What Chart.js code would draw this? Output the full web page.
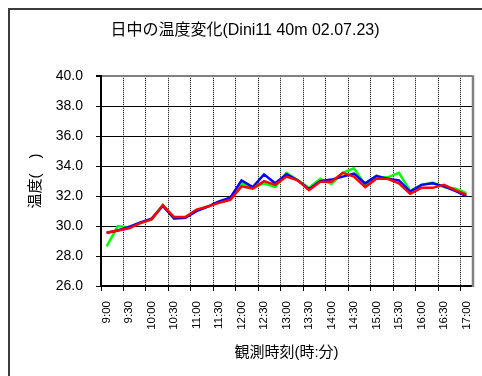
<!DOCTYPE html>
<html><head><meta charset="utf-8">
<script src="https://cdn.jsdelivr.net/npm/chart.js@4.4.1/dist/chart.umd.min.js"></script>
<style>html,body{margin:0;padding:0;background:#fff}canvas{display:block}</style>
</head><body>
<canvas id="c" width="482" height="376"></canvas>
<script>
const chartTitle = '日中の温度変化(Dini11 40m 02.07.23)';
const xTitle = '観測時刻(時:分)';
const yTitle = '温度(　)';
const times = ['9:00','9:15','9:30','9:45','10:00','10:15','10:30','10:45','11:00','11:15','11:30','11:45',
  '12:00','12:15','12:30','12:45','13:00','13:15','13:30','13:45','14:00','14:15','14:30','14:45',
  '15:00','15:15','15:30','15:45','16:00','16:15','16:30','16:45','17:00'];
const yTicks = [26,28,30,32,34,36,38,40];
const redSeries = [29.55,29.7,29.85,30.2,30.45,31.4,30.6,30.6,31.1,31.3,31.55,31.75,32.65,32.5,33.0,32.75,33.3,33.05,32.4,32.95,32.95,33.55,33.3,32.6,33.15,33.15,32.85,32.15,32.55,32.55,32.75,32.4,32.1];
const blueSeries = [29.55,29.7,29.95,30.25,30.5,31.35,30.5,30.55,31.0,31.3,31.65,31.9,33.05,32.6,33.45,32.85,33.45,33.05,32.45,33.0,33.1,33.3,33.5,32.85,33.35,33.15,33.05,32.3,32.75,32.85,32.65,32.35,32.0];
const greenSeries = [28.65,30.0,29.9,30.2,30.45,31.4,30.5,30.55,31.05,31.3,31.6,31.8,32.85,32.55,32.85,32.6,33.55,33.05,32.55,33.15,32.8,33.55,33.85,32.75,33.25,33.25,33.55,32.35,32.75,32.9,32.6,32.5,32.2];

const FONT = "'Liberation Sans', 'Noto Sans CJK JP', sans-serif";

const framePlugin = {
  id: 'frame',
  beforeDraw(chart) {
    const ctx = chart.ctx;
    ctx.save();
    ctx.fillStyle = '#fff';
    ctx.fillRect(0, 0, chart.width, chart.height);
    ctx.strokeStyle = '#3c3c3c';
    ctx.lineWidth = 2;
    ctx.strokeRect(9, 9, chart.width + 20, chart.height + 20);
    ctx.restore();
  },
  beforeDatasetsDraw(chart) {
    const a = chart.chartArea;
    const ctx = chart.ctx;
    ctx.save();
    ctx.strokeStyle = '#808080';
    ctx.lineWidth = 2.5;
    ctx.beginPath();
    ctx.moveTo(a.right + 1, a.top - 1);
    ctx.lineTo(a.right + 1, a.bottom + 1);
    ctx.stroke();
    ctx.restore();
  }
};

new Chart(document.getElementById('c'), {
  type: 'line',
  data: {
    labels: times,
    datasets: [
      { label: '系列3', data: redSeries, borderColor: '#ff0000', borderWidth: 2.5 },
      { label: '系列1', data: blueSeries, borderColor: '#0000ff', borderWidth: 2.5 },
      { label: '系列2', data: greenSeries, borderColor: '#00ff00', borderWidth: 2.5 }
    ]
  },
  options: {
    responsive: false,
    animation: false,
    elements: { point: { radius: 0, hoverRadius: 0 }, line: { tension: 0 } },
    layout: { padding: { left: 8, right: 0, top: 0, bottom: 0 } },
    plugins: {
      legend: { display: false },
      tooltip: { enabled: false },
      title: {
        display: true, text: chartTitle, color: '#000',
        font: { family: FONT, size: 16, weight: 'normal' },
        padding: { top: 21, bottom: 36 },
        fullSize: true
      }
    },
    scales: {
      x: {
        type: 'category',
        offset: true,
        grid: {
          offset: true,
          drawOnChartArea: true,
          color: (c) => (c.index > 0 && c.index < times.length && c.index % 2 === 0) ? '#000' : 'rgba(0,0,0,0)',
          lineWidth: 1,
          tickLength: 5,
          tickColor: (c) => (c.index % 2 === 0 && c.index < times.length) ? '#000' : 'rgba(0,0,0,0)',
          tickBorderDash: []
        },
        border: { display: true, color: '#000', width: 1.5, dash: [1, 1] },
        ticks: {
          autoSkip: false, maxRotation: 90, minRotation: 90, padding: 10,
          color: '#000', font: { family: FONT, size: 11.5 },
          callback: (v, i) => (i % 2 === 0 ? times[i] : '')
        },
        title: {
          display: true, text: xTitle, color: '#000',
          font: { family: FONT, size: 15 }, padding: { top: 0, bottom: 14 }
        },
        afterFit: (s) => { s.height = 90; s.paddingLeft = 0; s.paddingRight = 0; }
      },
      y: {
        min: 26, max: 40,
        afterBuildTicks: (s) => { s.ticks = yTicks.map(v => ({ value: v })); },
        grid: {
          color: (c) => (c.tick && c.tick.value === 40) ? '#808080' : '#000',
          lineWidth: (c) => (c.tick && c.tick.value === 40) ? 2 : 1,
          tickLength: 5,
          tickColor: '#000'
        },
        border: { display: true, color: '#000', width: 2 },
        ticks: {
          padding: 13, color: '#000', font: { family: FONT, size: 14 },
          callback: (v) => Number(v).toFixed(1)
        },
        title: {
          display: true, text: yTitle, color: '#000',
          font: { family: FONT, size: 15 }, padding: { top: 19, bottom: 0 }
        },
        afterFit: (s) => { s.width = 93; s.paddingTop = 0; s.paddingBottom = 0; }
      },
      yR: {
        position: 'right',
        display: true,
        grid: { display: false, drawTicks: false },
        border: { display: false },
        ticks: { display: false },
        afterFit: (s) => { s.width = 10; }
      }
    }
  },
  plugins: [framePlugin]
});
</script>
</body></html>
